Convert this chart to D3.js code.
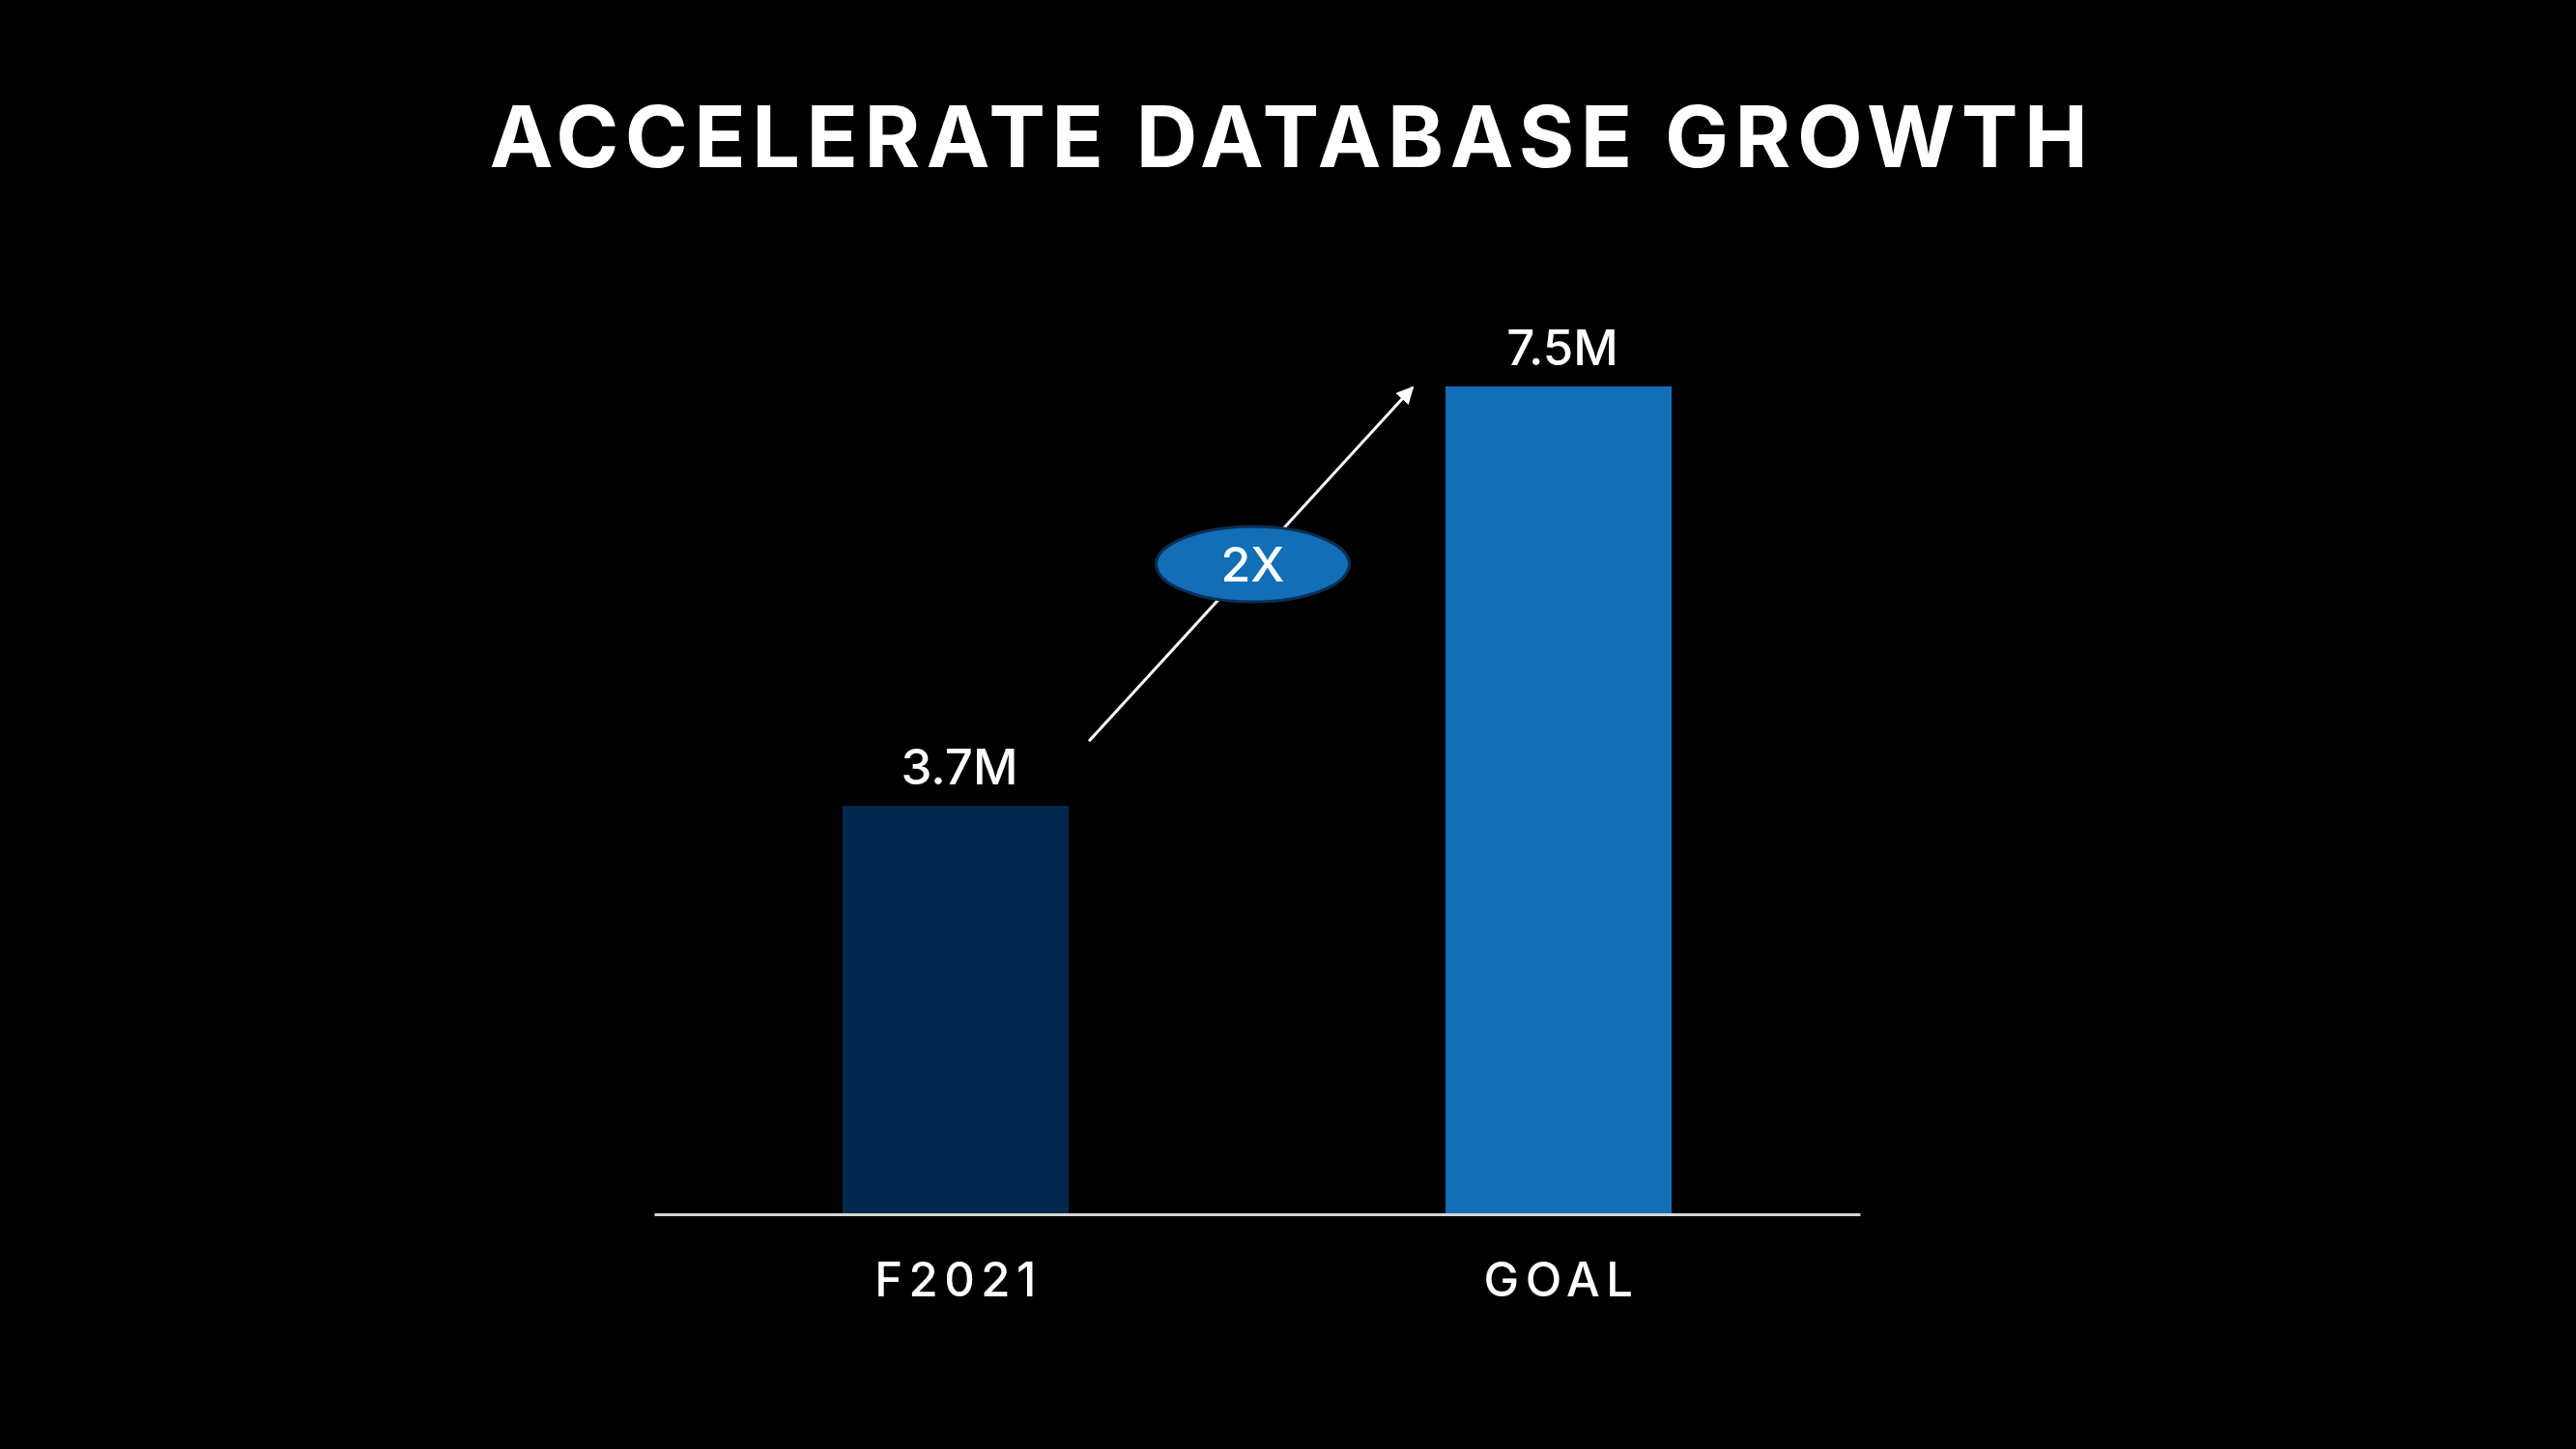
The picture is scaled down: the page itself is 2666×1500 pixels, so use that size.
<!DOCTYPE html>
<html>
<head>
<meta charset="utf-8">
<style>
  html, body { margin: 0; padding: 0; background: #000; }
  svg { display: block; }
  text { font-family: Inter, "Open Sans", sans-serif; fill: #fff; }
  .title { font-size: 88px; font-weight: 700; letter-spacing: 6.5px; }
  .value { font-size: 51px; font-weight: 500; }
  .tick text { font-size: 49px; font-weight: 500; letter-spacing: 6.5px; }
  .badge { font-size: 50px; font-weight: 500; }
</style>
</head>
<body>
<script src="https://d3js.org/d3.v7.min.js"></script>
<div class="chart"></div>
<script>
var categories = ["F2021", "GOAL"];
var values = [3.7, 7.5];
var valueLabels = ["3.7M", "7.5M"];
var barColors = ["#03284d", "#116eb7"];
var badgeLabel = "2X";
var titleText = "ACCELERATE DATABASE GROWTH";

var width = 2666, height = 1500;
var axisY = 1257, axisLeft = 677, axisRight = 1925;

var svg = d3.select(".chart").append("svg")
    .attr("width", width)
    .attr("height", height);

svg.append("rect")
    .attr("width", width)
    .attr("height", height)
    .attr("fill", "#000");

// title (letter-spacing adds a trailing gap, so nudge right by half of it)
svg.append("text")
    .attr("class", "title")
    .attr("x", 1337)
    .attr("y", 173)
    .attr("text-anchor", "middle")
    .text(titleText);

var x = d3.scaleBand()
    .domain(categories)
    .range([axisLeft, axisRight])
    .paddingInner(0.625)
    .paddingOuter(0.3125);

var y = d3.scaleLinear()
    .domain([0, 7.5])
    .range([axisY, 400]);

// bars
svg.selectAll(".bar")
    .data(values)
    .enter().append("rect")
    .attr("class", "bar")
    .attr("x", function(d, i) { return x(categories[i]); })
    .attr("y", function(d) { return y(d); })
    .attr("width", x.bandwidth())
    .attr("height", function(d) { return axisY - y(d); })
    .attr("fill", function(d, i) { return barColors[i]; });

// value labels
svg.selectAll(".value")
    .data(values)
    .enter().append("text")
    .attr("class", "value")
    .attr("x", function(d, i) { return x(categories[i]) + x.bandwidth() / 2 + 4; })
    .attr("y", function(d) { return y(d) - 22; })
    .attr("text-anchor", "middle")
    .text(function(d, i) { return valueLabels[i]; });

// x axis
var xAxis = svg.append("g")
    .attr("class", "x axis")
    .attr("transform", "translate(0," + axisY + ")")
    .call(d3.axisBottom(x).tickSize(0).tickPadding(85));
xAxis.select(".domain")
    .attr("stroke", "#d6d6d6")
    .attr("stroke-width", 3);
xAxis.selectAll(".tick text")
    .attr("fill", "#fff")
    .attr("dx", 3)
    .attr("dy", 0);

// growth arrow
var defs = svg.append("defs");
defs.append("marker")
    .attr("id", "arrowhead")
    .attr("viewBox", "0 0 10 10")
    .attr("refX", 9)
    .attr("refY", 5)
    .attr("markerWidth", 6)
    .attr("markerHeight", 6)
    .attr("markerUnits", "strokeWidth")
    .attr("orient", "auto")
    .append("path")
    .attr("d", "M0,0 L10,5 L0,10 z")
    .attr("fill", "#fff");

var x0 = x(categories[0]) + x.bandwidth() + 21,
    y0 = y(values[0]) - 67,
    x1 = x(categories[1]) - 34,
    y1 = y(values[1]) + 1;

svg.append("line")
    .attr("x1", x0).attr("y1", y0)
    .attr("x2", x1).attr("y2", y1)
    .attr("stroke", "#fff")
    .attr("stroke-width", 3)
    .attr("marker-end", "url(#arrowhead)");

// 2X badge
var cx = (x0 + x1) / 2 + 2, cy = (y0 + y1) / 2;
svg.append("ellipse")
    .attr("cx", cx)
    .attr("cy", cy)
    .attr("rx", 100)
    .attr("ry", 39)
    .attr("fill", "#116eb7")
    .attr("stroke", "#0b2f55")
    .attr("stroke-width", 3);

svg.append("text")
    .attr("class", "badge")
    .attr("x", cx)
    .attr("y", cy + 18)
    .attr("text-anchor", "middle")
    .text(badgeLabel);
</script>
</body>
</html>
